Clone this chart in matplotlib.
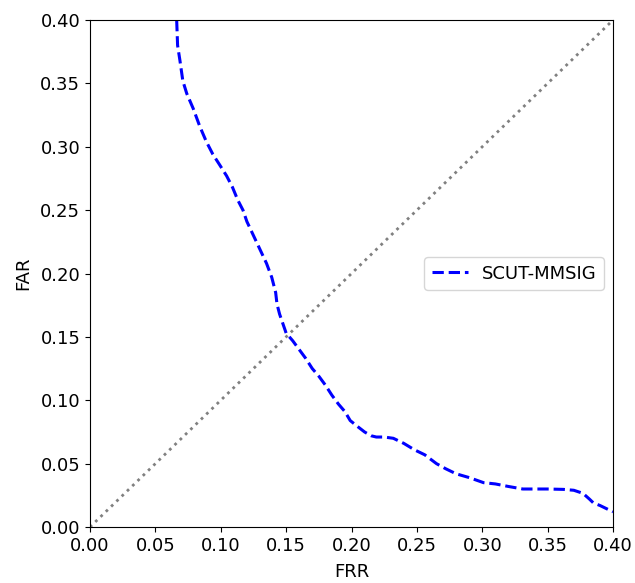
import numpy as np
import matplotlib.pyplot as plt

# FRR / FAR points
frr = [0.0663, 0.0670, 0.0688, 0.0710, 0.0740, 0.0790, 0.0840, 0.0890, 0.0940,
       0.0990, 0.1045, 0.1090, 0.1130, 0.1170, 0.1200, 0.1250, 0.1300, 0.1350,
       0.1390, 0.1420, 0.1430, 0.1450, 0.1500, 0.1550, 0.1600, 0.1650, 0.1700,
       0.1750, 0.1800, 0.1850, 0.1900, 0.1950, 0.1990, 0.2050, 0.2100, 0.2150,
       0.2190, 0.2250, 0.2320, 0.2400, 0.2480, 0.2560, 0.2650, 0.2720, 0.2800,
       0.2900, 0.3010, 0.3100, 0.3200, 0.3310, 0.3400, 0.3500, 0.3620, 0.3700,
       0.3770, 0.3820, 0.3850, 0.3900, 0.3980, 0.4000]
far = [0.400, 0.380, 0.368, 0.352, 0.342, 0.330, 0.316, 0.304, 0.294,
       0.286, 0.277, 0.268, 0.258, 0.250, 0.241, 0.230, 0.219, 0.208,
       0.197, 0.185, 0.176, 0.168, 0.153, 0.147, 0.140, 0.133, 0.125,
       0.119, 0.112, 0.104, 0.097, 0.091, 0.084, 0.079, 0.075, 0.072,
       0.071, 0.071, 0.070, 0.066, 0.061, 0.057, 0.050, 0.046, 0.042,
       0.039, 0.035, 0.034, 0.032, 0.030, 0.030, 0.030, 0.0297, 0.029,
       0.0266, 0.022, 0.019, 0.017, 0.013, 0.012]

fig = plt.figure(figsize=(6.35, 5.83), dpi=100)
ax = fig.add_axes([0.1417, 0.096, 0.8237, 0.8697])

ax.plot(frr, far, color='blue', linestyle='--', linewidth=2.2, label='SCUT-MMSIG')
ax.plot([0, 0.4], [0, 0.4], color='gray', linestyle=':', linewidth=2)

ax.set_xlim(0, 0.4)
ax.set_ylim(0, 0.4)
ax.set_xticks(np.arange(0, 0.401, 0.05))
ax.set_yticks(np.arange(0, 0.401, 0.05))
ax.tick_params(labelsize=13)
ax.set_xlabel('FRR', fontsize=13, labelpad=6)
ax.set_ylabel('FAR', fontsize=13, labelpad=6)
ax.legend(loc='center right', fontsize=13)

fig.savefig('out.png', dpi=100)
